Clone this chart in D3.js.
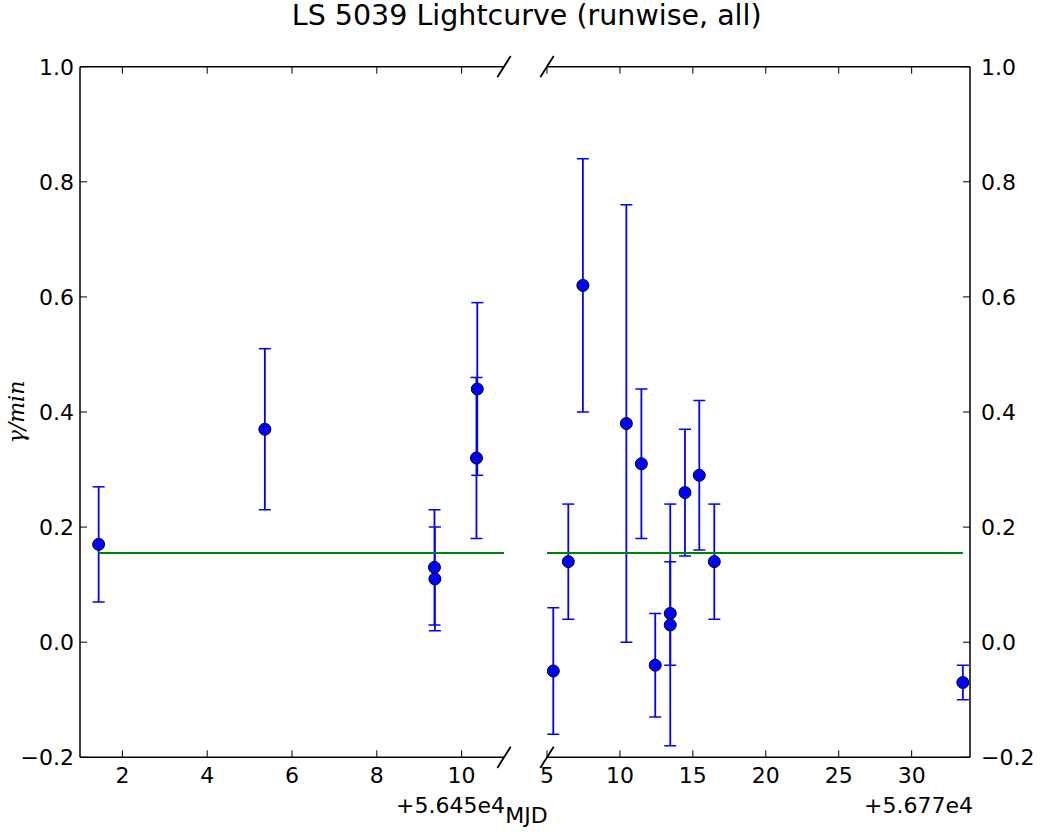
<!DOCTYPE html>
<html><head><meta charset="utf-8">
<script src="https://cdn.jsdelivr.net/npm/d3@7"></script>
<style>body{margin:0;background:#fff}svg{display:block}text{font-family:"DejaVu Sans",sans-serif;fill:#000}</style>
</head><body><svg id="c" width="1044" height="832"></svg>
<script>
// Data (MJD, rate, error-bar low, error-bar high)
const leftMJD  = [56451.44, 56455.36, 56459.36, 56459.37, 56460.37, 56460.35];
const leftRate = [0.17, 0.37, 0.13, 0.11, 0.44, 0.32];
const leftLo   = [0.07, 0.23, 0.03, 0.02, 0.29, 0.18];
const leftHi   = [0.27, 0.51, 0.23, 0.20, 0.59, 0.46];
const rightMJD  = [56775.43, 56776.46, 56777.46, 56780.44, 56781.47, 56782.42, 56783.45, 56783.45, 56784.46, 56785.44, 56786.47, 56803.51];
const rightRate = [-0.05, 0.14, 0.62, 0.38, 0.31, -0.04, 0.05, 0.03, 0.26, 0.29, 0.14, -0.07];
const rightLo   = [-0.16, 0.04, 0.40, 0.00, 0.18, -0.13, -0.04, -0.18, 0.15, 0.16, 0.04, -0.10];
const rightHi   = [0.06, 0.24, 0.84, 0.76, 0.44, 0.05, 0.14, 0.24, 0.37, 0.42, 0.24, -0.04];
const meanRate = 0.155;
const leftTicks = [2, 4, 6, 8, 10];
const rightTicks = [5, 10, 15, 20, 25, 30];
const yTicks = [-0.2, 0.0, 0.2, 0.4, 0.6, 0.8, 1.0];
const leftOffset = 56450, rightOffset = 56770;
const title = "LS 5039 Lightcurve (runwise, all)";

const svg = d3.select("#c");
const yTop = 66.7, yBot = 757.3;
const y = d3.scaleLinear().domain([-0.2, 1.0]).range([yBot, yTop]);
const xL = d3.scaleLinear().domain([56451, 56461]).range([80, 504]);
const xR = d3.scaleLinear().domain([56775, 56804]).range([547, 970]);
const firstMJD = leftMJD[0], lastMJD = rightMJD[rightMJD.length - 1];
const fmtY = d3.format(".1f");

function panel(x, mjd, rate, lo, hi, ticks, offset, side) {
  const [x0, x1] = x.range();
  const g = svg.append("g");
  const clipId = "clip" + side;
  svg.append("clipPath").attr("id", clipId).append("rect")
    .attr("x", x0).attr("y", yTop).attr("width", x1 - x0).attr("height", yBot - yTop);
  const d = g.append("g").attr("clip-path", `url(#${clipId})`);
  const data = mjd.map((m, i) => ({m, r: rate[i], lo: lo[i], hi: hi[i]}));
  // error bars
  const eb = d.selectAll(".eb").data(data).enter().append("g");
  eb.append("line").attr("x1", p => x(p.m)).attr("x2", p => x(p.m))
    .attr("y1", p => y(p.lo)).attr("y2", p => y(p.hi))
    .attr("stroke", "#0000ff").attr("stroke-width", 1.8);
  ["lo", "hi"].forEach(k => {
    eb.append("line").attr("x1", p => x(p.m) - 6).attr("x2", p => x(p.m) + 6)
      .attr("y1", p => y(p[k])).attr("y2", p => y(p[k]))
      .attr("stroke", "#0000ff").attr("stroke-width", 1.5);
  });
  // mean line
  d.append("line").attr("x1", x(Math.max(firstMJD, x.domain()[0]))).attr("x2", x(Math.min(lastMJD, x.domain()[1])))
    .attr("y1", y(meanRate)).attr("y2", y(meanRate))
    .attr("stroke", "#008000").attr("stroke-width", 1.8);
  // markers
  d.selectAll(".pt").data(data).enter().append("circle")
    .attr("cx", p => x(p.m)).attr("cy", p => y(p.r)).attr("r", 6)
    .attr("fill", "#0000ff").attr("stroke", "#000").attr("stroke-width", 1);

  // x ticks (inward, top and bottom)
  const tv = ticks.map(t => t + offset);
  const tk = 7;
  tv.forEach(t => {
    g.append("line").attr("x1", x(t)).attr("x2", x(t)).attr("y1", yBot).attr("y2", yBot - tk).attr("stroke", "#000").attr("stroke-width", 1);
    g.append("line").attr("x1", x(t)).attr("x2", x(t)).attr("y1", yTop).attr("y2", yTop + tk).attr("stroke", "#000").attr("stroke-width", 1);
    g.append("text").attr("x", x(t)).attr("y", yBot + 26).attr("text-anchor", "middle")
      .attr("font-size", 22).text(t - offset);
  });
  // y ticks
  const yx = side === "L" ? x0 : x1;
  const dir = side === "L" ? 1 : -1;
  yTicks.forEach(v => {
    g.append("line").attr("x1", yx).attr("x2", yx + dir * tk).attr("y1", y(v)).attr("y2", y(v)).attr("stroke", "#000").attr("stroke-width", 1);
    g.append("text").attr("x", side === "L" ? x0 - 6 : x1 + 11).attr("y", y(v)).attr("dy", "0.36em")
      .attr("text-anchor", side === "L" ? "end" : "start").attr("font-size", 22).text(fmtY(v));
  });
  // spines
  const sp = g.append("g").attr("stroke", "#000").attr("stroke-width", 1.5).attr("fill", "none");
  sp.append("line").attr("x1", x0).attr("x2", x1).attr("y1", yTop).attr("y2", yTop);
  sp.append("line").attr("x1", x0).attr("x2", x1).attr("y1", yBot).attr("y2", yBot);
  sp.append("line").attr("x1", yx).attr("x2", yx).attr("y1", yTop).attr("y2", yBot);
  // break marks
  const bx = side === "L" ? x1 : x0;
  [yTop, yBot].forEach(yy => {
    sp.append("line").attr("x1", bx - 6.7).attr("x2", bx + 6.7).attr("y1", yy + 10.6).attr("y2", yy - 10.6).attr("stroke-width", 1.8);
  });
  // offset text
  g.append("text").attr("x", x1 + (side === "L" ? 1 : 3)).attr("y", 812.7).attr("text-anchor", "end")
    .attr("font-size", 22).text("+" + (offset / 1e4).toFixed(3).replace(/0+$/, "") + "e4");
}

panel(xL, leftMJD, leftRate, leftLo, leftHi, leftTicks, leftOffset, "L");
panel(xR, rightMJD, rightRate, rightLo, rightHi, rightTicks, rightOffset, "R");

svg.append("text").attr("x", 526.7).attr("y", 25).attr("text-anchor", "middle").attr("font-size", 28.5).text(title);
svg.append("text").attr("x", 526.5).attr("y", 823).attr("text-anchor", "middle").attr("font-size", 22).text("MJD");
svg.append("text").attr("transform", "translate(24,412) rotate(-90)").attr("text-anchor", "middle")
  .attr("font-size", 22).attr("font-style", "italic").style("font-family", "'DejaVu Serif', serif").text("γ/min");
</script></body></html>
